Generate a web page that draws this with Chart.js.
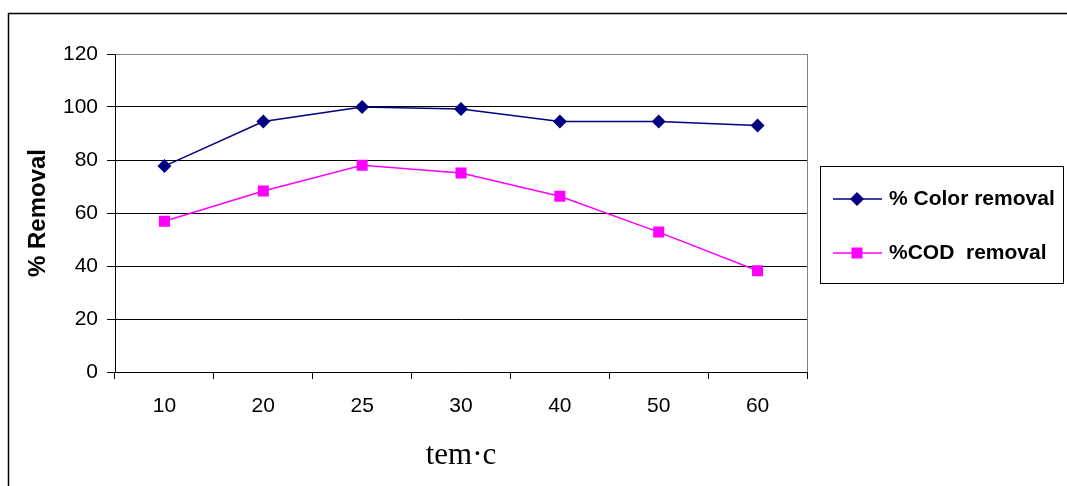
<!DOCTYPE html>
<html>
<head>
<meta charset="utf-8">
<script src="https://cdn.jsdelivr.net/npm/chart.js@4.4.0/dist/chart.umd.min.js"></script>
<style>
  html, body { margin: 0; padding: 0; background: #fff; }
  #wrap { width: 1067px; height: 486px; }
</style>
</head>
<body>
<div id="wrap"><canvas id="chart" width="1067" height="486"></canvas></div>
<script>
const temperatures = ['10', '20', '25', '30', '40', '50', '60'];
const colorRemoval = [77.7, 94.5, 100, 99.2, 94.5, 94.5, 93];
const codRemoval = [56.9, 68.3, 78, 75.1, 66.3, 52.8, 38.2];
const seriesNames = ['% Color removal', '%COD  removal'];

// frame, plot border and the boxed legend on the right
const decorations = {
  id: 'decorations',
  afterDraw(chart) {
    const ctx = chart.ctx;
    const a = chart.chartArea;
    ctx.save();
    // outer frame (top + left only visible)
    ctx.strokeStyle = '#000';
    ctx.lineWidth = 1.5;
    ctx.beginPath();
    ctx.moveTo(8.5, 490);
    ctx.lineTo(8.5, 13.5);
    ctx.lineTo(1070, 13.5);
    ctx.stroke();

    // right border of plot
    ctx.strokeStyle = '#808080';
    ctx.lineWidth = 1;
    ctx.beginPath();
    ctx.moveTo(Math.round(a.right) + 0.5, a.top);
    ctx.lineTo(Math.round(a.right) + 0.5, a.bottom);
    ctx.stroke();

    // legend box
    ctx.strokeStyle = '#000';
    ctx.strokeRect(820.5, 166.5, 243, 117);

    const rows = [199, 253];
    chart.data.datasets.forEach((ds, i) => {
      const y = rows[i];
      ctx.strokeStyle = ds.borderColor;
      ctx.lineWidth = 1.5;
      ctx.beginPath();
      ctx.moveTo(833, y);
      ctx.lineTo(882, y);
      ctx.stroke();
      ctx.fillStyle = ds.backgroundColor;
      ctx.beginPath();
      if (ds.pointStyle === 'rectRot') {
        ctx.moveTo(857, y - 7);
        ctx.lineTo(864, y);
        ctx.lineTo(857, y + 7);
        ctx.lineTo(850, y);
        ctx.closePath();
      } else {
        ctx.rect(851.5, y - 5.5, 11, 11);
      }
      ctx.fill();
      ctx.fillStyle = '#000';
      ctx.font = 'bold 21px "Liberation Sans", Arial, sans-serif';
      ctx.textBaseline = 'middle';
      ctx.textAlign = 'left';
      ctx.fillText(ds.label, 889, y);
    });
    ctx.restore();
  }
};

new Chart(document.getElementById('chart').getContext('2d'), {
  type: 'line',
  data: {
    labels: temperatures,
    datasets: [
      {
        label: seriesNames[0],
        data: colorRemoval,
        borderColor: '#000080',
        backgroundColor: '#000080',
        borderWidth: 1.5,
        pointStyle: 'rectRot',
        pointRadius: 7,
        pointBorderWidth: 0,
        tension: 0
      },
      {
        label: seriesNames[1],
        data: codRemoval,
        borderColor: '#FF00FF',
        backgroundColor: '#FF00FF',
        borderWidth: 1.5,
        pointStyle: 'rect',
        pointRadius: 7.8,
        pointBorderWidth: 0,
        tension: 0
      }
    ]
  },
  options: {
    responsive: false,
    animation: false,
    layout: { padding: { top: 54, right: 260, left: 0, bottom: 0 } },
    plugins: {
      legend: { display: false },
      tooltip: { enabled: false }
    },
    scales: {
      x: {
        offset: true,
        afterFit: (s) => { s.height = 114; },
        grid: {
          offset: true,
          drawOnChartArea: false,
          drawTicks: true,
          tickLength: 7,
          color: '#000'
        },
        border: { color: '#000', width: 1 },
        ticks: {
          color: '#000',
          padding: 15,
          maxRotation: 0,
          font: { family: '"Liberation Sans", Arial, sans-serif', size: 21 }
        },
        title: {
          display: true,
          text: 'tem·c',
          color: '#000',
          padding: { top: 0, bottom: 12 },
          font: { family: '"Liberation Serif", "Times New Roman", serif', size: 31 }
        }
      },
      y: {
        min: 0,
        max: 120,
        afterFit: (s) => { s.width = 115; },
        grid: {
          color: (c) => (c.tick && c.tick.value === 120 ? '#808080' : '#000'),
          tickLength: 8,
          tickColor: '#000'
        },
        border: { color: '#000', width: 1 },
        ticks: {
          stepSize: 20,
          color: '#000',
          padding: 9,
          font: { family: '"Liberation Sans", Arial, sans-serif', size: 21 }
        },
        title: {
          display: true,
          text: '% Removal',
          color: '#000',
          padding: { top: 24, bottom: 0 },
          font: { family: '"Liberation Sans", Arial, sans-serif', size: 24, weight: 'bold' }
        }
      }
    }
  },
  plugins: [decorations]
});
</script>
</body>
</html>
